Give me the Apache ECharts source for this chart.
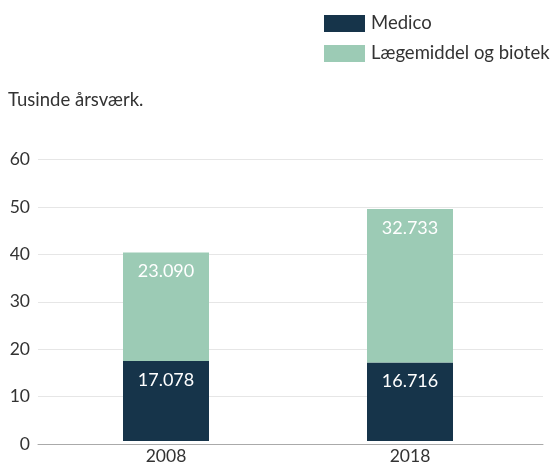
<!DOCTYPE html>
<html><head><meta charset="utf-8">
<script src="https://cdn.jsdelivr.net/npm/echarts@6/dist/echarts.min.js"></script>
<style>html,body{margin:0;padding:0;background:#fff}#c{width:550px;height:465px}</style>
</head><body><div id="c"></div>
<script>
const categories = ['2008', '2018'];
const medico = [17.078, 16.716];
const laegemiddel = [23.090, 32.733];
const yTicks = [0, 10, 20, 30, 40, 50, 60];
const seriesNames = ['Medico', 'Lægemiddel og biotek'];
const colors = ['#16344a', '#9ccbb5'];

const chart = echarts.init(document.getElementById('c'));
const font = 'Lato';
const fmt = p => p.value.toFixed(3);
chart.setOption({
  animation: false,
  textStyle: { fontFamily: font },
  color: colors,
  title: { text: 'Tusinde årsværk.', left: 8, top: 91, padding: 0, textStyle: { fontFamily: font, fontSize: 18.5, fontWeight: 'normal', color: '#333' } },
  legend: {
    orient: 'vertical', left: 324, top: 14, padding: 0, itemWidth: 41, itemHeight: 17, itemGap: 11,
    icon: 'rect', data: seriesNames,
    textStyle: { fontFamily: font, fontSize: 18.5, color: '#333', padding: [0, 0, 0, 1] }
  },
  grid: [
    { left: 44, right: 18, top: 159.5, bottom: 21 },
    { left: 38, right: 7, top: 159.5, bottom: 21 }
  ],
  xAxis: [
    { type: 'category', gridIndex: 0, data: categories, axisLine: { show: false }, axisTick: { show: false },
      axisLabel: { fontFamily: font, fontSize: 17.5, color: '#333', margin: 6 } },
    { type: 'value', gridIndex: 1, min: 0, max: 1, axisLine: { show: true, lineStyle: { color: '#aaa' } }, axisTick: { show: false }, axisLabel: { show: false }, splitLine: { show: false } }
  ],
  yAxis: [
    { type: 'value', gridIndex: 0, min: yTicks[0], max: yTicks[yTicks.length - 1], interval: 10, axisLabel: { show: false }, splitLine: { show: false }, axisLine: { show: false } },
    { type: 'value', gridIndex: 1, min: yTicks[0], max: yTicks[yTicks.length - 1], interval: 10,
      axisLine: { show: false }, axisTick: { show: false },
      axisLabel: { fontFamily: font, fontSize: 17.5, color: '#333', margin: 8 },
      splitLine: { lineStyle: { color: '#e6e6e6' } } }
  ],
  series: [
    { name: seriesNames[0], type: 'bar', stack: 's', data: medico, barWidth: 86, xAxisIndex: 0, yAxisIndex: 0,
      label: { show: true, position: 'insideTop', distance: 10, color: '#fff', fontFamily: font, fontSize: 18, formatter: fmt } },
    { name: seriesNames[1], type: 'bar', stack: 's', data: laegemiddel, barWidth: 86, xAxisIndex: 0, yAxisIndex: 0,
      label: { show: true, position: 'insideTop', distance: 10, color: '#fff', fontFamily: font, fontSize: 18, formatter: fmt } }
  ]
});
</script></body></html>
